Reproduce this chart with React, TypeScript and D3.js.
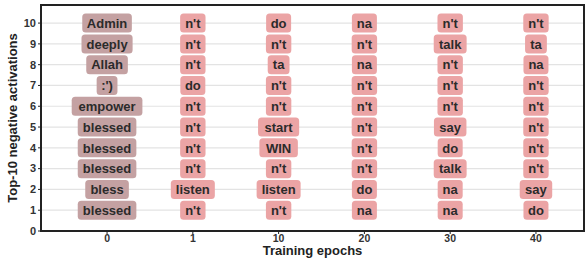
import React from 'react';
import * as d3 from 'd3';

// epochs shown on the x axis
const epochs = ['0', '1', '10', '20', '30', '40'];
const ranks = [10, 9, 8, 7, 6, 5, 4, 3, 2, 1];

// tokens per epoch, listed from rank 10 down to rank 1
const tokens0 = ['Admin', 'deeply', 'Allah', ":')", 'empower', 'blessed', 'blessed', 'blessed', 'bless', 'blessed'];
const tokens1 = ["n't", "n't", "n't", 'do', "n't", "n't", "n't", "n't", 'listen', "n't"];
const tokens10 = ['do', "n't", 'ta', "n't", "n't", 'start', 'WIN', "n't", 'listen', "n't"];
const tokens20 = ['na', "n't", 'na', "n't", "n't", "n't", "n't", "n't", 'do', 'na'];
const tokens30 = ["n't", 'talk', "n't", "n't", "n't", 'say', 'do', 'talk', 'na', 'na'];
const tokens40 = ["n't", 'ta', 'na', "n't", "n't", "n't", "n't", "n't", 'say', 'do'];

const columns = [tokens0, tokens1, tokens10, tokens20, tokens30, tokens40];
const yTicks = d3.range(0, 11);

const W = 587;
const H = 259;
const m = { left: 41, right: 3, top: 5, bottom: 28 };

// rough width of bold 13px text
const textWidth = (s: string) => {
  let w = 0;
  for (const c of s) {
    if ("'.:)(".includes(c)) w += 3.6;
    else if ('il'.includes(c)) w += 3.6;
    else if ('t'.includes(c)) w += 4.3;
    else if ('mwMW'.includes(c)) w += 11.6;
    else if ('ANH'.includes(c)) w += 9.4;
    else w += 7.5;
  }
  return w;
};

const App = () => {
  const x = d3.scaleLinear().domain([-0.77, 5.56]).range([m.left, W - m.right]);
  const y = d3.scaleLinear().domain([0, 10.87]).range([H - m.bottom, m.top]);
  const font = '"Liberation Sans", Arial, sans-serif';

  return (
    <svg width={W} height={H} style={{ position: 'absolute', left: 0, top: 0, background: '#fff' }}>
      {/* grid */}
      {yTicks.filter(t => t > 0).map(t => (
        <line key={t} x1={m.left} x2={W - m.right} y1={y(t)} y2={y(t)} stroke="#e3e3e3" strokeWidth={1.2} />
      ))}
      {/* labels */}
      {columns.map((col, i) =>
        col.map((tok, j) => {
          const r = ranks[j];
          const tw = textWidth(tok);
          const bw = tw + 10;
          return (
            <g key={i + '-' + j} transform={`translate(${x(i)},${y(r)})`}>
              <rect x={-bw / 2} y={-9.5} width={bw} height={19} rx={3.5}
                fill={i === 0 ? '#c4a1a2' : '#eba4a5'} />
              <text textAnchor="middle" dy="0.36em" fontFamily={font} fontWeight="bold" fontSize={13} fill="#2b2b2b">{tok}</text>
            </g>
          );
        })
      )}
      {/* frame */}
      <rect x={m.left} y={m.top} width={W - m.right - m.left} height={H - m.bottom - m.top}
        fill="none" stroke="#222" strokeWidth={2} />
      {/* y ticks */}
      {yTicks.map(t => (
        <g key={t}>
          <line x1={m.left - 3} x2={m.left} y1={y(t)} y2={y(t)} stroke="#222" strokeWidth={1} />
          <text x={m.left - 5} y={y(t)} dy="0.35em" textAnchor="end" fontFamily={font} fontWeight="bold" fontSize={11} fill="#333">{t}</text>
        </g>
      ))}
      {/* x ticks */}
      {epochs.map((e, i) => (
        <g key={e}>
          <line x1={x(i)} x2={x(i)} y1={H - m.bottom} y2={H - m.bottom + 3} stroke="#222" strokeWidth={1} />
          <text x={x(i)} y={H - m.bottom + 11} textAnchor="middle" fontFamily={font} fontWeight="bold" fontSize={10.5} fill="#333">{e}</text>
        </g>
      ))}
      <text x={(m.left + W - m.right) / 2} y={H - 4.5} textAnchor="middle" fontFamily={font} fontWeight="bold" fontSize={13} fill="#222">Training epochs</text>
      <text transform={`translate(17,${(m.top + H - m.bottom) / 2}) rotate(-90)`} textAnchor="middle" fontFamily={font} fontWeight="bold" fontSize={13} fill="#222">Top-10 negative activations</text>
    </svg>
  );
};

export default App;
